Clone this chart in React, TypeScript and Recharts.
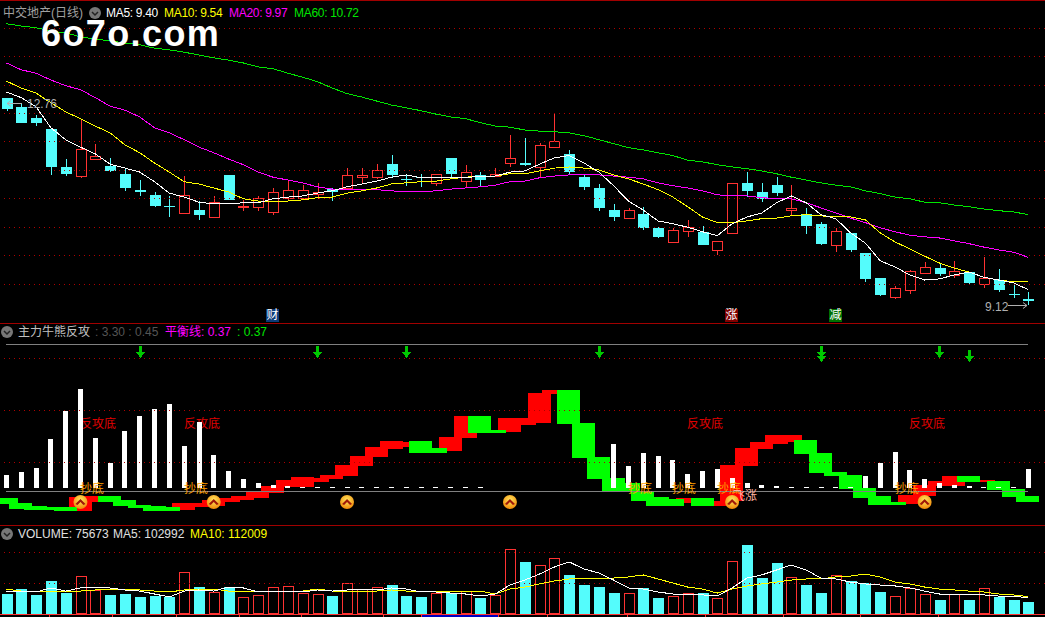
import React from "react";
import { Bar, ComposedChart, Line, ReferenceLine, XAxis, YAxis } from "recharts";

const opens = [12.78,12.62,12.42,12.23,11.56,11.40,11.70,11.58,11.44,11.16,11.07,10.87,10.75,10.80,10.68,11.42,10.86,10.86,10.77,11.02,11.02,11.09,11.17,11.19,11.38,11.38,11.61,11.35,11.38,11.28,11.72,11.31,11.42,11.40,11.63,11.63,11.56,11.91,11.79,11.38,11.19,10.80,10.66,10.73,10.49,10.24,10.43,10.42,10.10,10.40,11.28,11.12,11.24,10.80,10.73,10.56,10.19,10.40,10.05,9.61,9.27,9.40,9.70,9.78,9.66,9.71,9.50,9.57,9.33,9.24];
const closes = [12.58,12.34,12.34,11.56,11.44,11.88,11.76,11.49,11.19,11.12,10.87,10.85,11.07,10.72,10.94,10.98,10.87,11.02,11.12,11.16,11.16,11.12,11.12,11.42,11.42,11.51,11.42,11.33,11.37,11.44,11.44,11.47,11.33,11.44,11.72,11.60,11.95,12.02,11.47,11.21,10.84,10.68,10.80,10.49,10.33,10.45,10.50,10.19,10.26,11.28,11.14,11.00,11.10,10.84,10.52,10.21,10.43,10.10,9.59,9.31,9.43,9.73,9.80,9.68,9.73,9.52,9.61,9.40,9.31,9.20];
const highs = [12.78,12.69,12.48,12.23,11.70,12.41,11.97,11.72,11.54,11.33,11.12,11.05,11.40,10.96,11.05,11.42,10.98,11.05,11.19,11.31,11.24,11.28,11.19,11.54,11.54,11.61,11.77,11.44,11.44,11.44,11.72,11.60,11.47,11.54,12.12,12.07,11.98,12.49,11.86,11.42,11.26,10.91,10.84,10.86,10.50,10.49,10.63,10.52,10.26,11.28,11.47,11.28,11.38,11.24,10.84,10.59,10.49,10.40,10.05,9.61,9.47,9.75,9.89,9.85,9.91,9.71,9.98,9.77,9.52,9.36];
const lows = [12.55,12.34,12.28,11.42,11.40,11.37,11.70,11.47,11.14,11.05,10.86,10.68,10.73,10.63,10.68,10.98,10.79,10.79,10.72,10.96,10.98,11.00,10.96,11.17,11.26,11.35,11.38,11.23,11.21,11.23,11.37,11.21,11.23,11.38,11.56,11.58,11.37,11.90,11.44,11.16,10.79,10.61,10.65,10.45,10.31,10.24,10.33,10.19,10.01,10.40,11.03,10.94,11.05,10.72,10.38,10.19,10.06,10.06,9.54,9.29,9.24,9.33,9.70,9.64,9.61,9.50,9.43,9.36,9.26,9.13];
const ma5 = [12.88,12.78,12.62,12.25,12.04,11.91,11.79,11.61,11.54,11.47,11.30,11.10,11.03,10.94,10.91,10.91,10.93,10.93,11.00,11.03,11.05,11.10,11.14,11.21,11.26,11.31,11.38,11.42,11.37,11.37,11.37,11.37,11.40,11.40,11.47,11.49,11.61,11.72,11.76,11.63,11.47,11.23,10.96,10.80,10.61,10.56,10.50,10.42,10.35,10.56,10.68,10.75,10.93,11.05,10.93,10.72,10.65,10.40,10.22,9.91,9.80,9.66,9.57,9.59,9.66,9.71,9.62,9.57,9.52,9.40];
const ma10 = [13.07,12.95,12.86,12.69,12.53,12.41,12.28,12.16,11.95,11.81,11.63,11.47,11.30,11.26,11.19,11.12,11.00,10.96,10.96,10.96,10.98,11.02,11.03,11.10,11.14,11.19,11.26,11.28,11.30,11.31,11.35,11.38,11.40,11.40,11.44,11.44,11.49,11.54,11.56,11.54,11.51,11.42,11.35,11.26,11.16,11.03,10.86,10.68,10.58,10.58,10.61,10.65,10.66,10.70,10.72,10.70,10.68,10.68,10.63,10.40,10.24,10.12,9.99,9.87,9.78,9.71,9.62,9.57,9.54,9.54];
const ma20 = [13.39,13.27,13.21,13.09,12.99,12.92,12.78,12.63,12.56,12.44,12.25,12.16,12.04,11.91,11.81,11.70,11.60,11.47,11.38,11.33,11.28,11.21,11.17,11.17,11.16,11.16,11.14,11.12,11.12,11.14,11.17,11.19,11.21,11.24,11.30,11.31,11.37,11.40,11.42,11.42,11.42,11.40,11.38,11.35,11.28,11.23,11.19,11.14,11.07,11.05,11.05,11.02,11.00,11.00,10.93,10.84,10.75,10.66,10.58,10.49,10.42,10.36,10.33,10.31,10.26,10.21,10.15,10.10,10.06,9.97];
const ma60 = [14.08,14.04,14.01,13.95,13.92,13.85,13.81,13.78,13.74,13.71,13.65,13.62,13.58,13.53,13.48,13.44,13.39,13.32,13.29,13.21,13.14,13.06,12.95,12.85,12.79,12.72,12.65,12.60,12.55,12.49,12.44,12.41,12.34,12.28,12.26,12.21,12.19,12.18,12.16,12.11,12.04,11.97,11.90,11.86,11.81,11.76,11.68,11.65,11.60,11.56,11.53,11.49,11.44,11.38,11.33,11.28,11.24,11.21,11.14,11.09,11.03,11.00,10.94,10.93,10.89,10.86,10.82,10.79,10.77,10.72];
const priceGrid = [14,13.5,13,12.5,12,11.5,11,10.5,10,9.5];

// 主力牛熊反攻 indicator
const powerBars = [8.8,10.8,13.5,33.1,52,66.9,33.8,16.9,38.5,48.6,53.4,56.8,28.4,44.6,22.3,11.5,6.1,3.4,2,1.4,0.7,0.7,0.7,0.7,0.7,0.7,0.7,0.7,0.7,0.7,0.7,0.7,0.7,null,null,null,null,null,null,null,null,29.7,14.9,23.6,21.6,18.9,9.5,11.5,12.8,6.8,3.4,2,1.4,0.7,0.7,0.7,0.7,0.7,8.1,16.9,24.3,12.2,6.1,3.4,2,1.4,0.7,0.7,0.7,12.8];
const blockTop = [-4.1,-7.4,-9.5,-10.1,-10.1,-3.4,-2.7,-2.7,-5.4,-8.8,-9.5,-10.1,-7.4,-7.4,-5.4,-4.1,-2.7,0,4.1,8.1,10.1,9.5,11.5,18.2,24.3,30.4,34.5,33.8,34.5,29.7,37.2,51.4,51.4,41.9,50,50,66.9,68.9,68.9,46.6,23.6,9.5,6.1,0.7,-3.4,-4.7,-4.1,-4.1,-6.1,18.2,29.7,33.8,38.5,38.5,35.1,26.4,13.5,11.5,2.7,-2.7,-6.8,-2,4.7,7.4,10.8,10.8,8.1,7.4,2,-2.7];
const blockBottom = [-8.1,-11.5,-12.2,-12.2,-12.8,-12.8,-6.8,-6.8,-9.5,-10.8,-12.8,-12.8,-12.2,-10.1,-9.5,-6.8,-5.4,-4.1,-0.7,3.4,3.4,6.8,8.8,10.8,17.6,23.6,29.1,30.4,26.4,26.4,27.7,36.5,39.9,39.9,40.5,45.3,46.6,66.2,45.9,23,8.8,0.7,0,-6.1,-9.5,-9.5,-7.4,-9.5,-9.5,-6.1,17.6,29.1,32.4,33.8,25.7,12.8,10.8,2,-4.1,-8.8,-8.8,-8.1,-2.7,4.1,4.1,6.8,6.8,1.4,-3.4,-6.8];
const blockUp = [0,0,0,0,0,1,1,0,0,0,0,0,1,1,1,1,1,1,1,1,1,1,1,1,1,1,1,1,0,0,1,1,0,0,1,1,1,1,0,0,0,0,0,0,0,0,1,0,1,1,1,1,1,1,0,0,0,0,0,0,0,1,1,1,1,0,1,0,0,0];
const arrowDays = [9,21,27,40,55,63];
const lowArrowDays = [55,65];
const coinDays = [5,14,23,34,49,62];
const indicatorGrid = [90,55,20];
const balanceTop = 100;
const balanceZero = 0;

// volume
const volumes = [129000,161000,123000,213000,135000,245000,155000,123000,129000,110000,116000,110000,271000,174000,142000,174000,110000,123000,174000,181000,135000,129000,116000,200000,161000,174000,187000,116000,110000,135000,135000,148000,103000,123000,419000,336000,316000,361000,252000,187000,174000,135000,135000,168000,103000,116000,135000,135000,103000,342000,445000,232000,329000,239000,187000,135000,252000,213000,200000,142000,116000,168000,129000,90000,129000,90000,168000,110000,90000,75673];
const volMa5 = [148000,148000,142000,168000,148000,168000,168000,168000,155000,148000,129000,110000,148000,155000,148000,174000,168000,142000,148000,148000,142000,155000,148000,155000,155000,155000,168000,161000,142000,142000,135000,129000,116000,129000,187000,219000,258000,303000,336000,290000,265000,219000,168000,161000,142000,129000,129000,123000,116000,168000,232000,252000,284000,316000,284000,232000,226000,206000,194000,187000,181000,168000,148000,129000,129000,123000,123000,116000,116000,102992];
const volMa10 = [161000,148000,142000,148000,148000,148000,155000,155000,155000,155000,148000,142000,155000,155000,161000,148000,142000,142000,142000,148000,148000,161000,148000,142000,148000,148000,155000,148000,148000,142000,142000,148000,148000,129000,161000,174000,194000,213000,226000,232000,232000,232000,239000,252000,226000,200000,174000,161000,135000,161000,181000,194000,206000,219000,226000,226000,239000,245000,258000,239000,206000,194000,174000,161000,155000,148000,142000,129000,123000,112009];
const volumeGrid = [200000,400000];
const dateTicks = [49,112,176,239,301,383,421,498,547,627,705,783,860,938];

const RED = "#ff3232";
const CYAN = "#54fcfc";
const GRID = "#b00000";
const CJK = '"Liberation Sans","Noto Sans CJK SC",sans-serif';
const CHART_W = 1047;
const AXIS_PAD = { left: 0, right: 10.3 };

const rows = opens.map((open, i) => ({
  day: i,
  open,
  close: closes[i],
  range: [lows[i], highs[i]],
  ma5: ma5[i],
  ma10: ma10[i],
  ma20: ma20[i],
  ma60: ma60[i],
  white: powerBars[i] == null ? null : [2.7, 2.7 + powerBars[i]],
  redBlock: blockUp[i] ? [blockBottom[i], blockTop[i]] : null,
  greenBlock: blockUp[i] ? null : [blockBottom[i], blockTop[i]],
  arrow: arrowDays.includes(i) ? 90.5 : null,
  lowArrow: lowArrowDays.includes(i) ? 87.8 : null,
  coin: coinDays.includes(i) ? -6.8 : null,
  volume: volumes[i],
  volMa5: volMa5[i],
  volMa10: volMa10[i],
}));

function Candle(props: any) {
  const { x, y, width, height, payload } = props;
  const hi = payload.range[1];
  const lo = payload.range[0];
  const perPrice = height / (hi - lo);
  const cx = Math.round(x + width / 2);
  const top = Math.round(y + (hi - Math.max(payload.open, payload.close)) * perPrice);
  const bottom = Math.round(y + (hi - Math.min(payload.open, payload.close)) * perPrice);
  const wickTop = Math.round(y);
  const wickBottom = Math.round(y + height);
  const up = payload.close >= payload.open;
  const color = up ? RED : CYAN;
  return (
    <g shapeRendering="crispEdges">
      <rect x={cx} y={wickTop} width={1} height={wickBottom - wickTop} fill={color} />
      {up ? (
        <rect x={cx - 5 + 0.5} y={top + 0.5} width={10} height={Math.max(bottom - top, 1)} fill="#000" stroke={color} />
      ) : (
        <rect x={cx - 5} y={top} width={11} height={Math.max(bottom - top, 1)} fill={color} />
      )}
    </g>
  );
}

function VolumeBar(props: any) {
  const { x, y, width, height, payload } = props;
  const cx = Math.round(x + width / 2);
  const top = Math.round(y);
  const h = Math.round(height);
  if (payload.close >= payload.open) {
    return <rect x={cx - 5 + 0.5} y={top + 0.5} width={10} height={h - 1} fill="#000" stroke={RED} shapeRendering="crispEdges" />;
  }
  return <rect x={cx - 5} y={top} width={11} height={h} fill={CYAN} shapeRendering="crispEdges" />;
}

function Stick(props: any) {
  const { x, y, width, height, fill } = props;
  if (!Number.isFinite(y) || !Number.isFinite(height) || height === 0) return null;
  return <rect x={Math.round(x)} y={Math.round(y)} width={Math.round(width)} height={Math.round(height)} fill={fill} shapeRendering="crispEdges" />;
}

// the band clamps barSize, so the overlapping blocks get their width here
function Block(props: any) {
  const { x, y, width, height, fill } = props;
  if (!Number.isFinite(y) || !Number.isFinite(height) || height === 0) return null;
  return <rect x={Math.round(x + width / 2 - 11.5)} y={Math.round(y)} width={23} height={Math.max(Math.round(height), 1)} fill={fill} shapeRendering="crispEdges" />;
}

function ArrowMark(props: any) {
  const { cx, cy, value } = props;
  if (value == null || cy == null) return null;
  const x = Math.round(cx);
  return (
    <path
      key={`a${x}${cy}`}
      d={`M${x - 1} ${cy - 12}h3v6h3l-4.5 6l-4.5 -6h3z`}
      fill="#00c800"
      shapeRendering="crispEdges"
    />
  );
}

function Coin(props: any) {
  const { cx, cy, value } = props;
  if (value == null || cy == null) return null;
  return (
    <g key={`c${cx}`}>
      <circle cx={cx} cy={cy} r={7} fill="url(#coinFill)" />
      <path d={`M${cx - 5} ${cy + 2}L${cx} ${cy - 3}L${cx + 5} ${cy + 2}L${cx + 3} ${cy + 3}L${cx} ${cy}L${cx - 3} ${cy + 3}Z`} fill="#a01808" />
    </g>
  );
}

function Toggle({ x, y }: { x: number; y: number }) {
  return (
    <svg style={{ position: "absolute", left: x - 6, top: y - 6 }} width={12} height={12}>
      <circle cx={6} cy={6} r={6} fill="#777" />
      <path d="M3 5L6 8L9 5" fill="none" stroke="#222" strokeWidth={1.5} />
    </svg>
  );
}

function Label({ x, y, color, children, size = 12, style }: any) {
  return (
    <span
      style={{
        position: "absolute",
        left: x,
        top: y,
        color,
        fontSize: size,
        lineHeight: "14px",
        fontFamily: CJK,
        whiteSpace: "nowrap",
        ...style,
      }}
    >
      {children}
    </span>
  );
}

function Tag({ x, bg, children }: any) {
  return (
    <span
      style={{
        position: "absolute",
        left: x,
        top: 309,
        width: 13,
        height: 13,
        background: bg,
        color: "#fff",
        fontSize: 12,
        lineHeight: "13px",
        textAlign: "center",
        fontFamily: CJK,
      }}
    >
      {children}
    </span>
  );
}

export default function App() {
  const tight = { letterSpacing: -0.3 };
  return (
    <div style={{ position: "fixed", left: 0, top: 0, width: 1045, height: 617, background: "#000", overflow: "hidden" }}>
      <style>{`.recharts-line-curve, .recharts-reference-line-line { shape-rendering: crispEdges; }`}</style>
      {/* separators */}
      <div style={{ position: "absolute", left: 0, top: 0, width: 1045, height: 1, background: "#a00000" }} />
      <div style={{ position: "absolute", left: 0, top: 323, width: 1045, height: 1, background: "#a00000" }} />
      <div style={{ position: "absolute", left: 0, top: 525, width: 1045, height: 1, background: "#a00000" }} />
      <div style={{ position: "absolute", left: 0, top: 614, width: 1045, height: 1, background: RED }} />
      <div style={{ position: "absolute", left: 421, top: 615, width: 77, height: 2, background: "#0000c0" }} />
      {dateTicks.map((x) => (
        <div key={x} style={{ position: "absolute", left: x, top: 615, width: 1, height: 2, background: RED }} />
      ))}

      {/* price panel */}
      <div style={{ position: "absolute", left: -1, top: 0 }}>
        <ComposedChart width={CHART_W} height={323} data={rows} margin={{ top: 0, right: 0, bottom: 0, left: 0 }}>
          <XAxis dataKey="day" hide padding={AXIS_PAD} />
          <YAxis hide type="number" domain={[8.814, 14.498]} allowDataOverflow />
          {priceGrid.map((p) => (
            <ReferenceLine key={p} y={p} stroke={GRID} strokeDasharray="1 4" />
          ))}
          <Bar dataKey="range" barSize={11} shape={Candle} isAnimationActive={false} />
          <Line dataKey="ma60" stroke="#00e600" dot={false} isAnimationActive={false} />
          <Line dataKey="ma20" stroke="#ff00ff" dot={false} isAnimationActive={false} />
          <Line dataKey="ma10" stroke="#ffff00" dot={false} isAnimationActive={false} />
          <Line dataKey="ma5" stroke="#ffffff" dot={false} isAnimationActive={false} />
        </ComposedChart>
      </div>

      <Label x={3} y={6} color="#a0a0a0">中交地产(日线)</Label>
      <Toggle x={95} y={13} />
      <Label x={106} y={6} color="#fff" style={tight}>MA5: 9.40</Label>
      <Label x={164} y={6} color="#ffff00" style={tight}>MA10: 9.54</Label>
      <Label x={229} y={6} color="#ff00ff" style={tight}>MA20: 9.97</Label>
      <Label x={294} y={6} color="#00e600" style={tight}>MA60: 10.72</Label>
      <Label x={41} y={20} color="#fff" size={36} style={{ fontWeight: 700, lineHeight: "28px", letterSpacing: 1.4 }}>6o7o.com</Label>
      <Label x={27} y={97} color="#b0b0b0">12.76</Label>
      <Label x={985} y={300} color="#b0b0b0">9.12</Label>
      <svg style={{ position: "absolute", left: 0, top: 0 }} width={1045} height={323}>
        <path d="M22 103.5H7M11 100.5L7 103.5L11 106.5" stroke="#b0b0b0" fill="none" />
        <path d="M1008 305.5H1027M1023 302.5L1027 305.5L1023 308.5" stroke="#b0b0b0" fill="none" />
      </svg>
      <Tag x={266} bg="#0b3b78">财</Tag>
      <Tag x={725} bg="#800000">涨</Tag>
      <Tag x={829} bg="#007000">减</Tag>

      {/* indicator panel */}
      <Label x={80} y={417} color="#e00000">反攻底</Label>
      <Label x={184} y={417} color="#e00000">反攻底</Label>
      <Label x={687} y={417} color="#e00000">反攻底</Label>
      <Label x={909} y={417} color="#e00000">反攻底</Label>
      <div style={{ position: "absolute", left: -1, top: 323 }}>
        <ComposedChart width={CHART_W} height={202} data={rows} margin={{ top: 0, right: 0, bottom: 0, left: 0 }}>
          <XAxis dataKey="day" hide padding={AXIS_PAD} />
          <XAxis dataKey="day" xAxisId="red" hide padding={AXIS_PAD} />
          <XAxis dataKey="day" xAxisId="green" hide padding={AXIS_PAD} />
          <YAxis hide type="number" domain={[-22.3, 114.2]} allowDataOverflow />
          {indicatorGrid.map((v) => (
            <ReferenceLine key={v} y={v} stroke={GRID} strokeDasharray="1 4" />
          ))}
          <ReferenceLine segment={[{ x: 0, y: balanceTop }, { x: 69, y: balanceTop }]} stroke="#808080" />
          <ReferenceLine segment={[{ x: 0, y: balanceZero }, { x: 69, y: balanceZero }]} stroke="#808080" />
          <Bar dataKey="redBlock" xAxisId="red" barSize={14} fill="#ff0000" shape={Block} isAnimationActive={false} />
          <Bar dataKey="greenBlock" xAxisId="green" barSize={14} fill="#00ff00" shape={Block} isAnimationActive={false} />
          <Bar dataKey="white" barSize={5} fill="#ffffff" shape={Stick} isAnimationActive={false} />
          <Line dataKey="arrow" stroke="none" dot={ArrowMark} activeDot={false} isAnimationActive={false} />
          <Line dataKey="lowArrow" stroke="none" dot={ArrowMark} activeDot={false} isAnimationActive={false} />
        </ComposedChart>
      </div>
      <Label x={80} y={482} color="#ffa000">抄底</Label>
      <Label x={184} y={482} color="#ffa000">抄底</Label>
      <Label x={628} y={482} color="#ffa000">抄底</Label>
      <Label x={672} y={482} color="#ffa000">抄底</Label>
      <Label x={717} y={482} color="#ffa000">抄底</Label>
      <Label x={895} y={482} color="#ffa000">抄底</Label>
      <Label x={733} y={489} color="#ffb0a0">飞涨</Label>
      <div style={{ position: "absolute", left: -1, top: 323 }}>
        <ComposedChart width={CHART_W} height={202} data={rows} margin={{ top: 0, right: 0, bottom: 0, left: 0 }}>
          <defs>
            <radialGradient id="coinFill" cx="50%" cy="35%" r="70%">
              <stop offset="0%" stopColor="#ffe860" />
              <stop offset="100%" stopColor="#f08000" />
            </radialGradient>
          </defs>
          <XAxis dataKey="day" hide scale="band" padding={AXIS_PAD} />
          <YAxis hide type="number" domain={[-22.3, 114.2]} allowDataOverflow />
          <Line dataKey="coin" stroke="none" dot={Coin} activeDot={false} isAnimationActive={false} />
        </ComposedChart>
      </div>
      <Toggle x={7} y={332} />
      <Label x={18} y={325} color="#c0c0c0">主力牛熊反攻</Label>
      <Label x={95} y={325} color="#555">: 3.30 : 0.45</Label>
      <Label x={165} y={325} color="#ff00ff">平衡线: 0.37</Label>
      <Label x={237} y={325} color="#00e600">: 0.37</Label>

      {/* volume panel */}
      <div style={{ position: "absolute", left: -1, top: 525 }}>
        <ComposedChart width={CHART_W} height={89} data={rows} margin={{ top: 0, right: 0, bottom: 0, left: 0 }}>
          <XAxis dataKey="day" hide padding={AXIS_PAD} />
          <YAxis hide type="number" domain={[0, 574228]} allowDataOverflow />
          {volumeGrid.map((v) => (
            <ReferenceLine key={v} y={v} stroke={GRID} strokeDasharray="1 4" />
          ))}
          <Bar dataKey="volume" barSize={11} shape={VolumeBar} isAnimationActive={false} />
          <Line dataKey="volMa10" stroke="#ffff00" dot={false} isAnimationActive={false} />
          <Line dataKey="volMa5" stroke="#ffffff" dot={false} isAnimationActive={false} />
        </ComposedChart>
      </div>
      <Toggle x={7} y={534} />
      <Label x={18} y={527} color="#e0e0e0">VOLUME: 75673</Label>
      <Label x={113} y={527} color="#e0e0e0">MA5: 102992</Label>
      <Label x={190} y={527} color="#ffff00">MA10: 112009</Label>
    </div>
  );
}
